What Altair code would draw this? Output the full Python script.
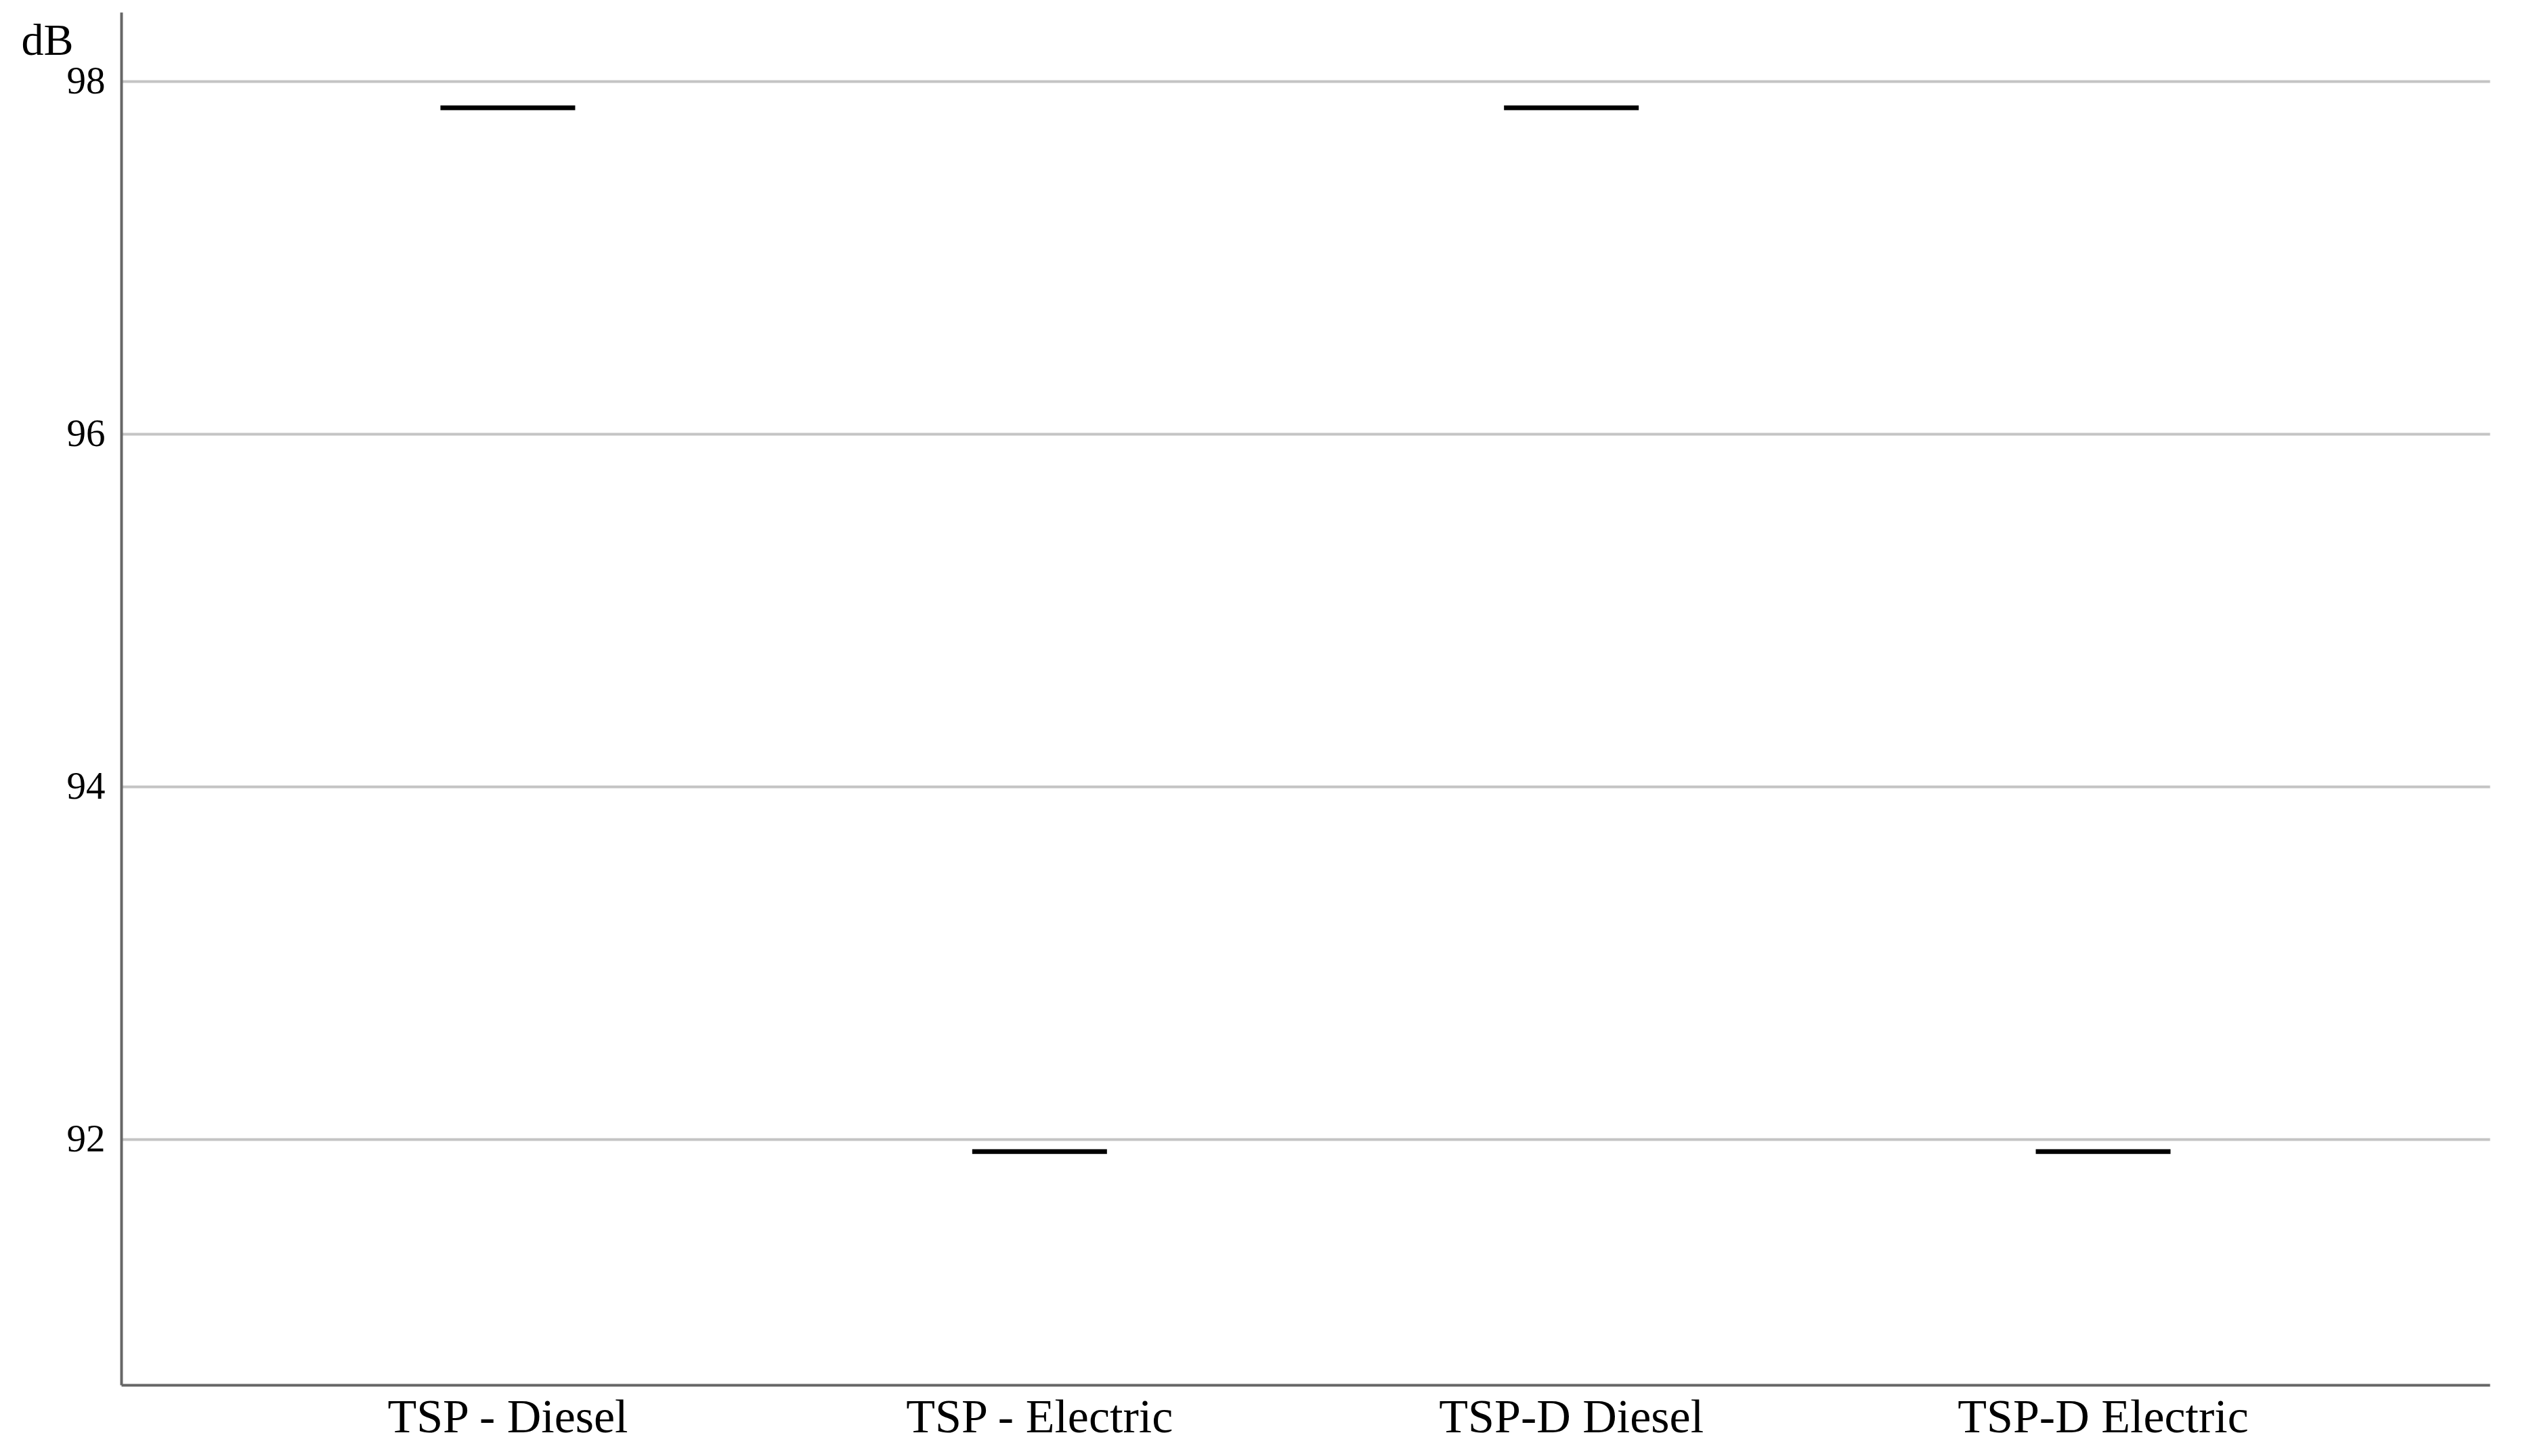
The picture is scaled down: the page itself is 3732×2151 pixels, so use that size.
import altair as alt
import pandas as pd

categories = ["TSP - Diesel", "TSP - Electric", "TSP-D Diesel", "TSP-D Electric"]
values = [97.85, 91.93, 97.85, 91.93]
y_ticks = [92, 94, 96, 98]

df = pd.DataFrame({"cat": categories, "db": values})

chart = alt.Chart(df).mark_tick(color="black", size=199, thickness=7, opacity=1).encode(
    x=alt.X("cat:N", sort=categories, title=None,
            scale=alt.Scale(paddingInner=0, paddingOuter=0.227),
            axis=alt.Axis(labelAngle=0, ticks=False, grid=False, labelLimit=0,
                          labelFont="Liberation Serif", labelFontSize=70,
                          labelColor="black", labelPadding=14,
                          domainColor="#666666", domainWidth=4)),
    y=alt.Y("db:Q", title="dB",
            scale=alt.Scale(domain=[90.607, 98.392], nice=False, zero=False),
            axis=alt.Axis(values=y_ticks, ticks=False, grid=True,
                          gridColor="#c4c4c4", gridWidth=4,
                          labelFont="Liberation Serif", labelFontSize=57,
                          labelColor="black", labelPadding=24,
                          domainColor="#666666", domainWidth=4,
                          titleAngle=0, titleFont="Liberation Serif",
                          titleFontSize=66, titleFontWeight="normal",
                          titleColor="black", titleAlign="left",
                          titleBaseline="alphabetic", titleX=-148, titleY=62)),
).properties(
    width=3498, height=2028,
    autosize=alt.AutoSizeParams(type="none"),
    padding={"left": 171, "top": 10, "right": 40, "bottom": 97},
).configure_view(stroke=None)

chart.save("out.html", embed_options={"renderer": "svg", "actions": False})
